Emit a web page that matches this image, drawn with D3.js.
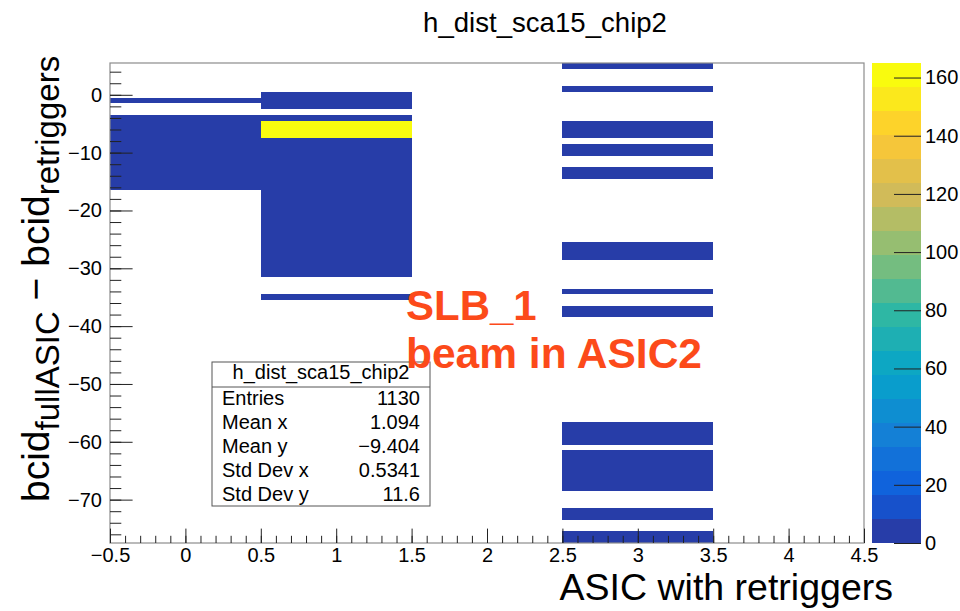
<!DOCTYPE html>
<html>
<head>
<meta charset="utf-8">
<script src="https://cdn.jsdelivr.net/npm/d3@7"></script>
<style>
  body { margin: 0; background: #fff; }
  svg { font-family: "Liberation Sans", Arial, sans-serif; }
</style>
</head>
<body>
<svg id="chart" width="960" height="611"></svg>
<script>
// histogram h_dist_sca15_chip2, 1x1 bins centred on integers
var xDomain = [-0.5, 4.5]
var yDomain = [-77.5, 5.5]

// filled cells per ASIC column: y bin centre and bin content
var col0Y = [-1, -4, -5, -6, -7, -8, -9, -10, -11, -12, -13, -14, -15, -16]
var col0Z = [3, 2, 4, 1, 3, 2, 5, 2, 1, 3, 2, 1, 2, 1]

var col1Y = [0, -1, -2, -4, -5, -6, -7, -8, -9, -10, -11, -12, -13, -14, -15, -16,
  -17, -18, -19, -20, -21, -22, -23, -24, -25, -26, -27, -28, -29, -30, -31, -35]
var col1Z = [2, 3, 2, 4, 163, 165, 160, 6, 5, 4, 3, 4, 2, 3, 2, 3,
  2, 1, 2, 2, 1, 2, 1, 1, 2, 1, 1, 2, 1, 1, 1, 1]

var col3Y = [5, 1, -5, -6, -7, -9, -10, -13, -14, -26, -27, -28, -34, -37, -38,
  -57, -58, -59, -60, -62, -63, -64, -65, -66, -67, -68, -72, -73, -76, -77]
var col3Z = [1, 1, 2, 3, 2, 1, 2, 1, 1, 2, 1, 1, 1, 1, 2,
  1, 2, 2, 1, 3, 2, 4, 3, 2, 2, 1, 1, 1, 2, 1]

var columns = [
  { x: 0, ys: col0Y, zs: col0Z },
  { x: 1, ys: col1Y, zs: col1Z },
  { x: 3, ys: col3Y, zs: col3Z },
]

var colorTicks = [0, 20, 40, 60, 80, 100, 120, 140, 160]
var nLevels = 20

var statLabels = ['Entries', 'Mean x', 'Mean y', 'Std Dev x', 'Std Dev y']
var statValues = ['1130', '1.094', '\u22129.404', '0.5341', '11.6']

/* kBird palette (ROOT) */
var birdStops = [0, 0.125, 0.25, 0.375, 0.5, 0.625, 0.75, 0.875, 1]
var birdR = [0.2082, 0.0592, 0.0780, 0.0232, 0.1802, 0.5301, 0.8186, 0.9956, 0.9764]
var birdG = [0.1664, 0.3599, 0.5041, 0.6419, 0.7178, 0.7492, 0.7328, 0.7862, 0.9832]
var birdB = [0.5293, 0.8684, 0.8385, 0.7914, 0.6425, 0.4662, 0.3499, 0.1968, 0.0539]
var interpR = d3.scaleLinear(birdStops, birdR)
var interpG = d3.scaleLinear(birdStops, birdG)
var interpB = d3.scaleLinear(birdStops, birdB)
function bird(t) {
  return d3.rgb(interpR(t) * 255, interpG(t) * 255, interpB(t) * 255).formatHex()
}
function levelColor(level) {
  var idx = Math.floor((level + 0.99) * 255 / nLevels)
  return bird(Math.min(idx, 254) / 254)
}

/* flatten cells */
var cells = []
for (var col of columns) {
  col.ys.forEach(function (yv, i) {
    cells.push({ x: col.x, y: yv, z: col.zs[i] })
  })
}
var zMax = d3.max(cells, function (c) { return c.z })

var frame = { left: 110, right: 864, top: 63, bottom: 543 }
var x = d3.scaleLinear(xDomain, [frame.left, frame.right])
var y = d3.scaleLinear(yDomain, [frame.bottom, frame.top])
var z = d3.scaleLinear([0, zMax], [frame.bottom, frame.top])

var svg = d3.select('#chart')

// title
svg.append('text')
  .attr('x', 545).attr('y', 32)
  .attr('text-anchor', 'middle')
  .attr('font-size', 27.6)
  .text('h_dist_sca15_chip2')

// cells
svg.append('g')
  .attr('shape-rendering', 'crispEdges')
  .selectAll('rect')
  .data(cells)
  .enter().append('rect')
    .attr('x', function (c) { return x(c.x - 0.5) })
    .attr('width', function (c) { return x(c.x + 0.5) - x(c.x - 0.5) })
    .attr('y', function (c) { return y(c.y + 0.5) })
    .attr('height', function (c) { return y(c.y - 0.5) - y(c.y + 0.5) })
    .attr('fill', function (c) {
      var lvl = Math.min(nLevels - 1, Math.floor(0.01 + c.z * nLevels / zMax))
      return levelColor(lvl)
    })

// frame
svg.append('rect')
  .attr('x', frame.left).attr('y', frame.top)
  .attr('width', frame.right - frame.left).attr('height', frame.bottom - frame.top)
  .attr('fill', 'none').attr('stroke', '#8c8c8c').attr('stroke-width', 1.2)

function styleAxis(g, fontSize) {
  g.select('.domain').remove()
  g.selectAll('line').attr('stroke', '#222')
  g.selectAll('text').attr('font-size', fontSize).attr('fill', '#000')
    .attr('font-family', '"Liberation Sans", Arial, sans-serif')
}

// y axis major + minor ticks
svg.append('g')
  .attr('transform', `translate(${frame.left},0)`)
  .call(d3.axisLeft(y).tickValues(d3.range(-70, 1, 10)).tickSize(-22.6).tickSizeOuter(0).tickPadding(8))
  .call(styleAxis, 20)
svg.append('g')
  .attr('transform', `translate(${frame.left},0)`)
  .call(d3.axisLeft(y).tickValues(d3.range(-76, 5, 2)).tickSize(-11.3).tickSizeOuter(0).tickFormat(''))
  .call(styleAxis, 20)

// x axis major + minor ticks
svg.append('g')
  .attr('transform', `translate(0,${frame.bottom})`)
  .call(d3.axisBottom(x).tickValues(d3.range(-0.5, 4.51, 0.5)).tickSize(-14.4).tickSizeOuter(0)
    .tickPadding(5).tickFormat(d3.format('~g')))
  .call(styleAxis, 20)
svg.append('g')
  .attr('transform', `translate(0,${frame.bottom})`)
  .call(d3.axisBottom(x).tickValues(d3.range(-0.5, 4.51, 0.1)).tickSize(-7.2).tickSizeOuter(0).tickFormat(''))
  .call(styleAxis, 20)

// axis titles
var yTitle = svg.append('text')
  .attr('transform', 'translate(49,502) rotate(-90)')
  .attr('font-size', 39)
yTitle.append('tspan').text('bcid')
yTitle.append('tspan').attr('font-size', 33).attr('dy', 10).text('fullASIC')
yTitle.append('tspan').attr('dy', -10).text(' \u2212 bcid')
yTitle.append('tspan').attr('font-size', 33).attr('dy', 10).text('retriggers')

svg.append('text')
  .attr('x', 893).attr('y', 600)
  .attr('text-anchor', 'end')
  .attr('font-size', 37.5)
  .text('ASIC with retriggers')

// colour bar
var bar = { left: 872, right: 921 }
var levels = d3.range(nLevels)
svg.append('g')
  .attr('shape-rendering', 'crispEdges')
  .selectAll('rect')
  .data(levels)
  .enter().append('rect')
    .attr('x', bar.left)
    .attr('width', bar.right - bar.left)
    .attr('y', function (i) { return z((i + 1) * zMax / nLevels) })
    .attr('height', function (i) { return z(i * zMax / nLevels) - z((i + 1) * zMax / nLevels) })
    .attr('fill', function (i) { return levelColor(i) })

svg.append('g')
  .attr('transform', `translate(${bar.right},0)`)
  .call(d3.axisRight(z).tickValues(colorTicks).tickSize(-27).tickSizeOuter(0).tickPadding(4))
  .call(styleAxis, 20)

// stats box
var box = { x: 212, y: 362, w: 218, h: 144 }
var stats = svg.append('g')
stats.append('rect')
  .attr('x', box.x).attr('y', box.y).attr('width', box.w).attr('height', box.h)
  .attr('fill', '#fff').attr('stroke', '#555')
stats.append('line')
  .attr('x1', box.x).attr('x2', box.x + box.w)
  .attr('y1', box.y + 25).attr('y2', box.y + 25)
  .attr('stroke', '#555')
stats.append('text')
  .attr('x', box.x + box.w / 2).attr('y', box.y + 17)
  .attr('text-anchor', 'middle').attr('font-size', 20)
  .text('h_dist_sca15_chip2')
statLabels.forEach(function (lab, i) {
  stats.append('text')
    .attr('x', box.x + 10).attr('y', box.y + 43 + i * 24)
    .attr('font-size', 20).text(lab)
  stats.append('text')
    .attr('x', box.x + box.w - 10).attr('y', box.y + 43 + i * 24)
    .attr('text-anchor', 'end').attr('font-size', 20).text(statValues[i])
})

// annotation
svg.append('text')
  .attr('x', 406).attr('y', 320)
  .attr('font-size', 42).attr('font-weight', 'bold').attr('fill', '#fc4a1a')
  .text('SLB_1')
svg.append('text')
  .attr('x', 406).attr('y', 368)
  .attr('font-size', 42.5).attr('font-weight', 'bold').attr('fill', '#fc4a1a')
  .text('beam in ASIC2')
</script>
</body>
</html>
